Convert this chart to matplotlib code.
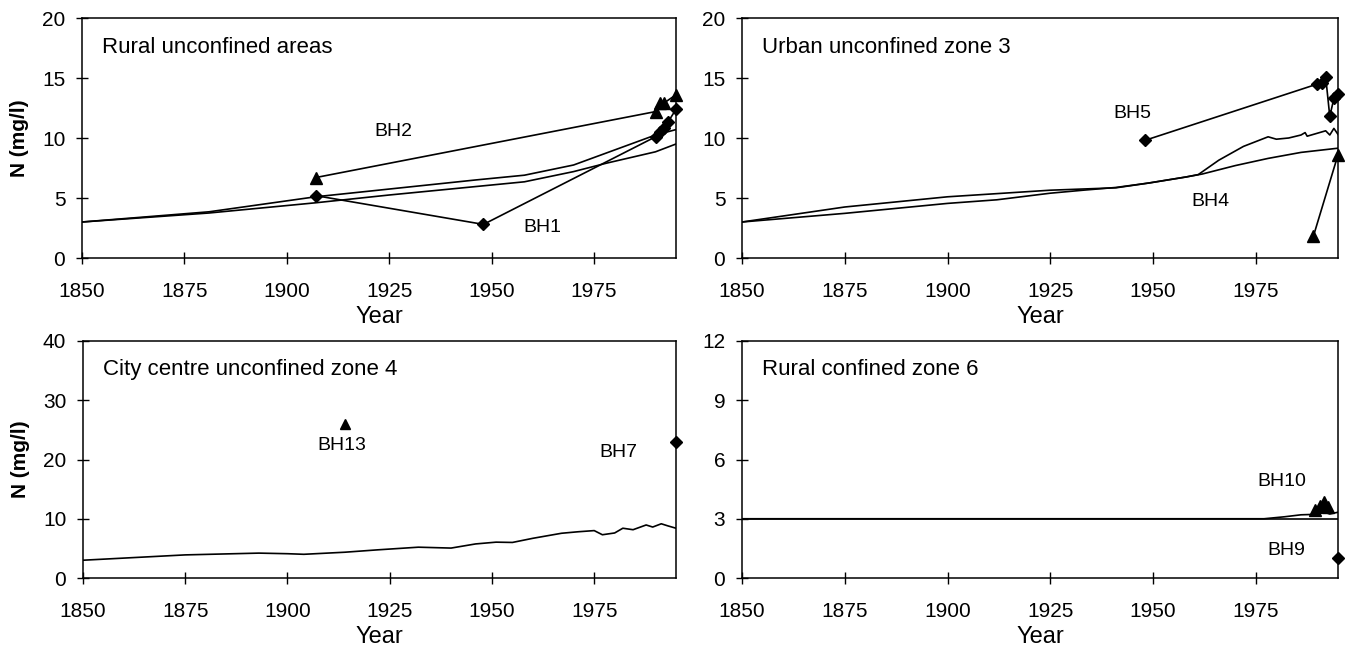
import matplotlib
matplotlib.use("Agg")
import matplotlib.pyplot as plt

plt.rcParams['font.family'] = ['Liberation Sans', 'DejaVu Sans']

# ---------------- Data ----------------
# Panel 1: Rural unconfined areas
p1_model_a_year = [1850, 1881, 1907, 1946, 1958, 1970, 1990, 1995]
p1_model_a_val = [3.0, 3.85, 5.1, 6.5, 6.9, 7.75, 10.25, 10.7]
p1_model_b_year = [1850, 1881, 1907, 1925, 1946, 1958, 1970, 1978, 1990, 1995]
p1_model_b_val = [3.0, 3.75, 4.6, 5.25, 5.95, 6.35, 7.2, 7.9, 8.85, 9.5]
bh2_year = [1907, 1990, 1991, 1992, 1995]
bh2_val = [6.7, 12.2, 12.9, 12.9, 13.6]
bh1_year = [1907, 1948, 1990, 1991, 1992, 1993, 1995]
bh1_val = [5.2, 2.8, 10.1, 10.5, 10.8, 11.3, 12.4]

# Panel 2: Urban unconfined zone 3
p2_smooth_year = [1850, 1875, 1900, 1925, 1941, 1949, 1958, 1962, 1970, 1978, 1986, 1995]
p2_smooth_val = [3.0, 4.25, 5.1, 5.65, 5.85, 6.25, 6.75, 7.0, 7.7, 8.3, 8.8, 9.15]
p2_noisy_year = [1850, 1875, 1900, 1912, 1925, 1933, 1941, 1949, 1958, 1961, 1966,
                 1972, 1978, 1980, 1983, 1986, 1987, 1987.5, 1990, 1992, 1993, 1994, 1995]
p2_noisy_val = [3.0, 3.72, 4.55, 4.85, 5.4, 5.65, 5.88, 6.25, 6.75, 6.95, 8.15,
                9.3, 10.1, 9.9, 10.0, 10.25, 10.45, 10.15, 10.4, 10.6, 10.25, 10.8, 10.3]
bh5_year = [1948, 1990, 1991, 1992, 1993, 1994, 1995]
bh5_val = [9.8, 14.5, 14.6, 15.1, 11.8, 13.3, 13.7]
bh4_year = [1989, 1995]
bh4_val = [1.8, 8.6]

# Panel 3: City centre unconfined zone 4
p3_model_year = [1850, 1875, 1893, 1900, 1904, 1914, 1922, 1932, 1940, 1946, 1951, 1955,
                 1960, 1967, 1971, 1975, 1977, 1980, 1982, 1984.5, 1987.7, 1989.3,
                 1991.4, 1993, 1995]
p3_model_val = [3.0, 3.9, 4.2, 4.1, 4.0, 4.35, 4.75, 5.2, 5.05, 5.75, 6.05, 6.0,
                6.7, 7.55, 7.8, 8.0, 7.3, 7.6, 8.4, 8.15, 8.95, 8.6, 9.15, 8.8, 8.4]
bh13_year = [1914]
bh13_val = [26.0]
bh7_year = [1995]
bh7_val = [23.0]

# Panel 4: Rural confined zone 6
p4_flat_year = [1850, 1995]
p4_flat_val = [3.0, 3.0]
p4_model_year = [1850, 1977, 1982, 1986, 1989, 1992, 1993, 1995]
p4_model_val = [3.0, 3.0, 3.1, 3.2, 3.22, 3.31, 3.24, 3.33]
bh10_year = [1989.5, 1990.5, 1991.5, 1992.5]
bh10_val = [3.45, 3.65, 3.85, 3.6]
bh9_year = [1995]
bh9_val = [1.0]

xticks = [1850, 1875, 1900, 1925, 1950, 1975]

# ---------------- Figure ----------------
fig = plt.figure(figsize=(13.45, 6.5), dpi=100)
W, H = 1345.0, 650.0

def make_ax(l, t, r, b):
    return fig.add_axes([l / W, 1 - b / H, (r - l) / W, (b - t) / H])

ax1 = make_ax(82, 18, 676, 258)
ax2 = make_ax(742, 18, 1338, 258)
ax3 = make_ax(83, 341, 676, 578)
ax4 = make_ax(742, 341, 1338, 578)

LW = 1.2
line_kw = dict(color='black', lw=LW)

def style(ax, ylim, yticks, title, ylabel):
    ax.set_xlim(1850, 1995)
    ax.set_ylim(*ylim)
    ax.set_xticks(xticks)
    ax.set_yticks(yticks)
    ax.tick_params(direction='inout', length=8, width=1.0, labelsize=15, pad=8)
    ax.tick_params(axis='x', pad=13)
    for s in ax.spines.values():
        s.set_linewidth(1.1)
    ax.set_xlabel('Year', fontsize=17, labelpad=4)
    if ylabel:
        ax.set_ylabel('N (mg/l)', fontsize=15, fontweight='bold', labelpad=9)
    ax.text(0.034, 0.855, title, transform=ax.transAxes, fontsize=16, va='baseline', ha='left')

# Panel 1
ax1.plot(p1_model_a_year, p1_model_a_val, **line_kw)
ax1.plot(p1_model_b_year, p1_model_b_val, **line_kw)
ax1.plot(bh2_year, bh2_val, marker='^', ms=9, **line_kw, clip_on=False)
ax1.plot(bh1_year, bh1_val, marker='D', ms=6, **line_kw, clip_on=False)
ax1.text(1926, 10.5, 'BH2', fontsize=14, ha='center', va='center')
ax1.text(1962.5, 2.5, 'BH1', fontsize=14, ha='center', va='center')
style(ax1, (0, 20), [0, 5, 10, 15, 20], 'Rural unconfined areas', True)

# Panel 2
ax2.plot(p2_smooth_year, p2_smooth_val, **line_kw)
ax2.plot(p2_noisy_year, p2_noisy_val, **line_kw)
ax2.plot(bh5_year, bh5_val, marker='D', ms=6, **line_kw, clip_on=False)
ax2.plot(bh4_year, bh4_val, marker='^', ms=9, **line_kw, clip_on=False)
ax2.text(1945, 12.0, 'BH5', fontsize=14, ha='center', va='center')
ax2.text(1964, 4.7, 'BH4', fontsize=14, ha='center', va='center')
style(ax2, (0, 20), [0, 5, 10, 15, 20], 'Urban unconfined zone 3', False)

# Panel 3
ax3.plot(p3_model_year, p3_model_val, **line_kw)
ax3.plot(bh13_year, bh13_val, marker='^', ms=7, ls='none', color='black', clip_on=False)
ax3.plot(bh7_year, bh7_val, marker='D', ms=6, ls='none', color='black', clip_on=False)
ax3.text(1913.2, 22.4, 'BH13', fontsize=14, ha='center', va='center')
ax3.text(1981, 21.2, 'BH7', fontsize=14, ha='center', va='center')
style(ax3, (0, 40), [0, 10, 20, 30, 40], 'City centre unconfined zone 4', True)

# Panel 4
ax4.plot(p4_flat_year, p4_flat_val, **line_kw)
ax4.plot(p4_model_year, p4_model_val, **line_kw)
ax4.plot(bh10_year, bh10_val, marker='^', ms=8, **line_kw, clip_on=False)
ax4.plot(bh9_year, bh9_val, marker='D', ms=6, ls='none', color='black', clip_on=False)
ax4.text(1981.4, 4.9, 'BH10', fontsize=14, ha='center', va='center')
ax4.text(1982.4, 1.37, 'BH9', fontsize=14, ha='center', va='center')
style(ax4, (0, 12), [0, 3, 6, 9, 12], 'Rural confined zone 6', False)

fig.savefig('out.png', dpi=100)
